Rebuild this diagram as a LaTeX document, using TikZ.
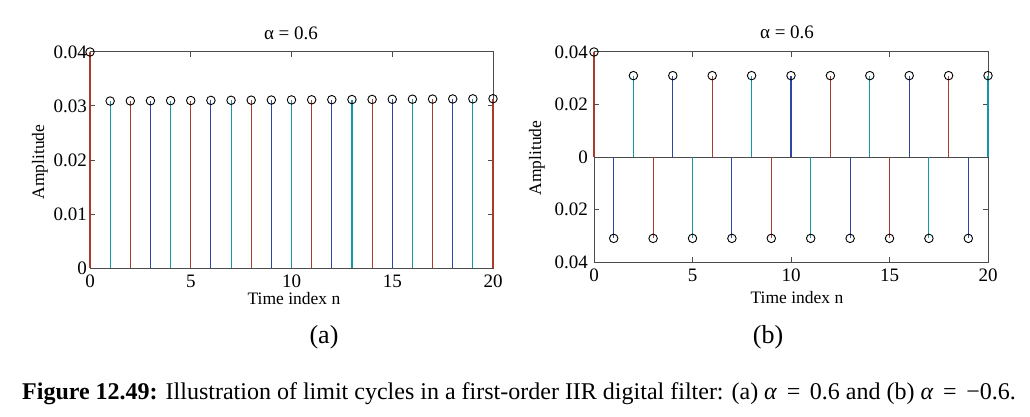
\documentclass[tikz,border=0pt]{standalone}
\usepackage{fontspec}
\setmainfont{Liberation Serif}
\definecolor{stemred}{RGB}{170,60,45}
\definecolor{stemblue}{RGB}{45,70,165}
\definecolor{stemteal}{RGB}{20,150,165}
\definecolor{axisgray}{RGB}{75,75,75}
\tikzset{
  stemmark/.style={circle, draw=black, line width=0.9pt, inner sep=0pt, minimum size=8.5pt},
  ticklabel/.style={font=\fontsize{19}{21}\selectfont, inner sep=1pt},
  axislabel/.style={font=\fontsize{17.5}{20}\selectfont, inner sep=0pt},
  titlelabel/.style={font=\fontsize{19}{21}\selectfont, inner sep=0pt},
  panellabel/.style={font=\fontsize{26}{28}\selectfont, inner sep=0pt},
  axisline/.style={axisgray, line width=1pt},
  stemline/.style={line width=1.1pt}
}

\begin{document}
\begin{tikzpicture}[x=1pt, y=-1pt]
  \useasboundingbox [fill=white] (0,0) rectangle (1030,417);

  % Panel (a): alpha = 0.6
  \begin{scope}[shift={(90,268)}, x=20.15pt, y=54pt]
    \draw [axisline] (0,0) rectangle (20,4);
    \foreach \a/\lab in {0/0, 1/0.01, 2/0.02, 3/0.03, 4/0.04} {
      \draw [axisline] (0,\a) -- ++(5pt,0);
      \draw [axisline] (20,\a) -- ++(-5pt,0);
      \node [ticklabel, anchor=east, xshift=-2pt] (ya\a) at (0,\a) {\lab};
    }
    \foreach \n in {0,5,...,20} {
      \draw [axisline] (\n,0) -- ++(0,5pt);
      \draw [axisline] (\n,4) -- ++(0,-5pt);
      \node [ticklabel, anchor=north, yshift=-6pt] (xa\n) at (\n,0) {\n};
    }
    % stems
    \draw [stemline, stemred] (0,0) -- (0,4);
    \node [stemmark] (sa0) at (0,4) {};
    \foreach \n in {1,...,20} {
      \pgfmathsetmacro\amp{3.09+0.00225*\n}
      \pgfmathparse{{"stemblue","stemteal","stemred"}[mod(\n,3)]}
      \let\stemcol\pgfmathresult
      \draw [stemline, \stemcol] (\n,0) -- (\n,\amp);
      \node [stemmark] (sa\n) at (\n,\amp) {};
    }
  \end{scope}

  \node [titlelabel] (titlea) at (291,33) {α = 0.6};
  \node [axislabel, rotate=90] (ylaba) at (40,162) {Amplitude};
  \node [axislabel] (xlaba) at (294,299) {Time index n};
  \node [panellabel] (panela) at (324,337) {(a)};

  % Panel (b): alternating sign
  \begin{scope}[shift={(594,157)}, x=19.7pt, y=26.25pt]
    \draw [axisline] (0,-4) rectangle (20,4);
    \draw [axisline] (0,0) -- (20,0);
    \foreach \a/\lab in {-4/0.04, -2/0.02, 0/0, 2/0.02, 4/0.04} {
      \draw [axisline] (0,\a) -- ++(5pt,0);
      \draw [axisline] (20,\a) -- ++(-5pt,0);
      \node [ticklabel, anchor=east, xshift=-5pt] at (0,\a) {\lab};
    }
    \foreach \n in {0,5,...,20} {
      \draw [axisline] (\n,-4) -- ++(0,5pt);
      \draw [axisline] (\n,4) -- ++(0,-5pt);
      \node [ticklabel, anchor=north, yshift=-6pt] (xb\n) at (\n,-4) {\n};
    }
    % stems
    \draw [stemline, stemred] (0,0) -- (0,4);
    \node [stemmark] (sb0) at (0,4) {};
    \foreach \n in {1,...,20} {
      \pgfmathsetmacro\amp{ifthenelse(mod(\n,2)==0, 3.1, -3.1)}
      \pgfmathparse{{"stemred","stemblue","stemteal"}[mod(\n,3)]}
      \let\stemcol\pgfmathresult
      \draw [stemline, \stemcol] (\n,0) -- (\n,\amp);
      \node [stemmark] (sb\n) at (\n,\amp) {};
    }
  \end{scope}

  \node [titlelabel] (titleb) at (787,32) {α = 0.6};
  \node [axislabel, rotate=90] (ylabb) at (537,158) {Amplitude};
  \node [axislabel] (xlabb) at (797,298) {Time index n};
  \node [panellabel] (panelb) at (768,337) {(b)};

  % caption
  \node [anchor=base west, inner sep=0pt, font=\fontsize{24}{26}\selectfont] (caption) at (22,399)
    {\textbf{Figure 12.49:} Illustration of limit cycles in a first-order IIR digital filter: (a) \textit{α}\hspace{0.4em}=\hspace{0.4em}0.6 and (b) \textit{α}\hspace{0.4em}=\hspace{0.4em}−0.6.};
\end{tikzpicture}
\end{document}
